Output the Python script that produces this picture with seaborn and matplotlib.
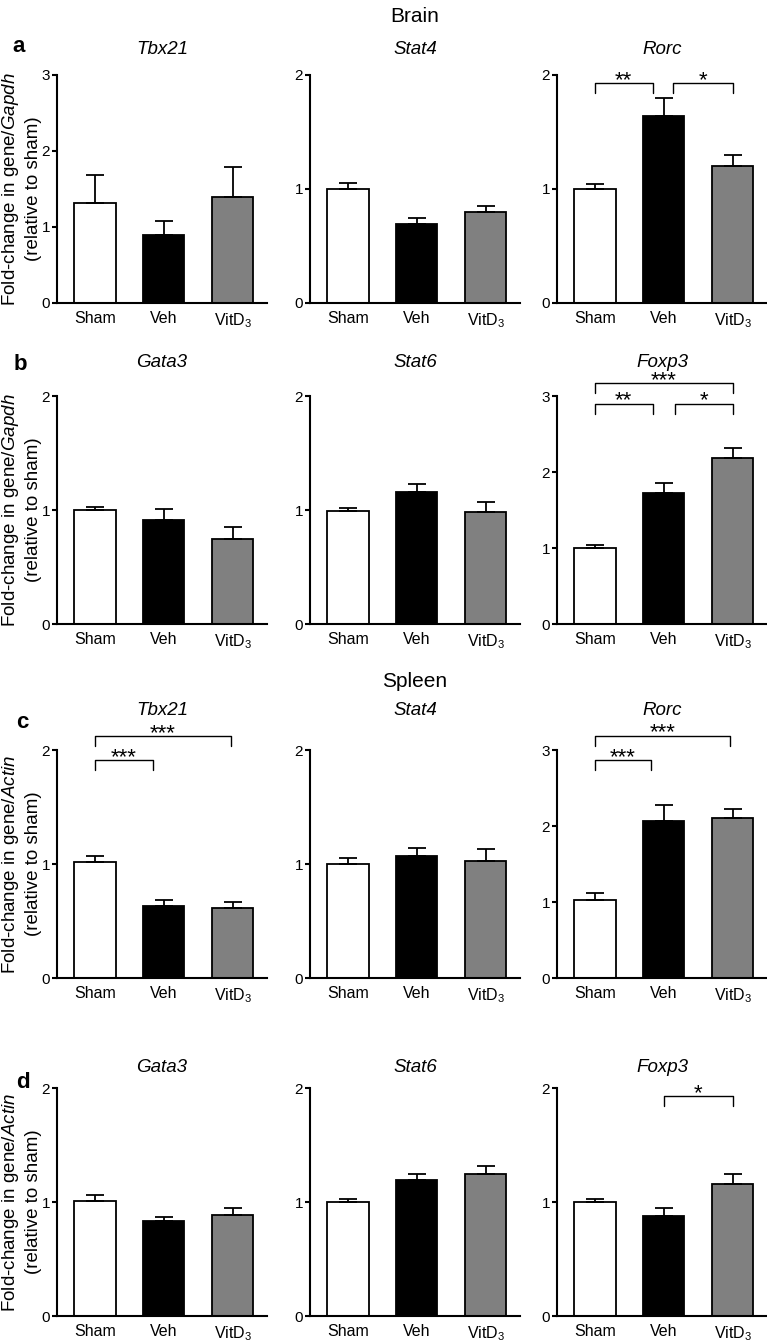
import numpy as np
import pandas as pd
import seaborn as sns
from matplotlib import pyplot as plt

# groups and bar colours
GROUPS = ["Sham", "Veh", "VitD$_3$"]
BAR_COLORS = ["white", "black", "#808080"]

# mean fold-change and SEM (upper error) per gene
brain_tbx21 = [1.31, 0.89, 1.39]
brain_tbx21_sem = [0.37, 0.19, 0.40]
brain_stat4 = [1.00, 0.69, 0.795]
brain_stat4_sem = [0.05, 0.06, 0.055]
brain_rorc = [1.00, 1.64, 1.20]
brain_rorc_sem = [0.04, 0.16, 0.10]
brain_gata3 = [1.00, 0.91, 0.75]
brain_gata3_sem = [0.03, 0.10, 0.10]
brain_stat6 = [0.99, 1.16, 0.98]
brain_stat6_sem = [0.03, 0.07, 0.09]
brain_foxp3 = [1.00, 1.73, 2.18]
brain_foxp3_sem = [0.04, 0.13, 0.13]

spleen_tbx21 = [1.015, 0.63, 0.617]
spleen_tbx21_sem = [0.055, 0.05, 0.053]
spleen_stat4 = [1.00, 1.07, 1.03]
spleen_stat4_sem = [0.05, 0.07, 0.10]
spleen_rorc = [1.03, 2.07, 2.10]
spleen_rorc_sem = [0.09, 0.20, 0.12]
spleen_gata3 = [1.01, 0.83, 0.89]
spleen_gata3_sem = [0.05, 0.04, 0.06]
spleen_stat6 = [1.00, 1.195, 1.245]
spleen_stat6_sem = [0.03, 0.055, 0.075]
spleen_foxp3 = [1.00, 0.88, 1.16]
spleen_foxp3_sem = [0.03, 0.07, 0.09]

ROW_LETTERS = ["a", "b", "c", "d"]
ROW_REF = ["Gapdh", "Gapdh", "Actin", "Actin"]
ROW_GENES = [["Tbx21", "Stat4", "Rorc"], ["Gata3", "Stat6", "Foxp3"],
             ["Tbx21", "Stat4", "Rorc"], ["Gata3", "Stat6", "Foxp3"]]
ROW_YMAX = [[3, 2, 2], [2, 2, 3], [2, 2, 3], [2, 2, 2]]
ROW_MEANS = [[brain_tbx21, brain_stat4, brain_rorc],
             [brain_gata3, brain_stat6, brain_foxp3],
             [spleen_tbx21, spleen_stat4, spleen_rorc],
             [spleen_gata3, spleen_stat6, spleen_foxp3]]
ROW_SEMS = [[brain_tbx21_sem, brain_stat4_sem, brain_rorc_sem],
            [brain_gata3_sem, brain_stat6_sem, brain_foxp3_sem],
            [spleen_tbx21_sem, spleen_stat4_sem, spleen_rorc_sem],
            [spleen_gata3_sem, spleen_stat6_sem, spleen_foxp3_sem]]

# significance brackets: (row, col, from, to, height, label)
BRACKETS = [
    (0, 2, 0, 0.84, 1.93, "**"),
    (0, 2, 1.13, 2, 1.93, "*"),
    (1, 2, 0, 0.84, 2.90, "**"),
    (1, 2, 1.16, 2, 2.90, "*"),
    (1, 2, 0, 2, 3.17, "***"),
    (2, 0, 0, 0.84, 1.91, "***"),
    (2, 0, 0, 1.97, 2.12, "***"),
    (2, 2, 0, 0.81, 2.87, "***"),
    (2, 2, 0, 1.96, 3.19, "***"),
    (3, 2, 1, 2, 1.93, "*"),
]

# layout in pixels
FIG_W, FIG_H = 767, 1343
COL_LEFT = [57, 310, 557]
ROW_TOP = [75, 396, 750, 1088]
AX_W, AX_H = 210, 228
TITLE_Y = [47, 360, 708, 1065]
LETTER_POS = [(19, 47), (20, 365), (22, 723), (23, 1083)]
SECTIONS = [("Brain", 17), ("Spleen", 682)]

sns.set_style("ticks")
plt.rcParams["font.family"] = ["Liberation Sans", "DejaVu Sans"]
plt.rcParams["mathtext.fontset"] = "custom"
plt.rcParams["mathtext.rm"] = "Liberation Sans"
plt.rcParams["mathtext.it"] = "Liberation Sans:italic"
for key in ("text.color", "axes.labelcolor", "xtick.color", "ytick.color", "axes.edgecolor"):
    plt.rcParams[key] = "black"

fig = plt.figure(figsize=(FIG_W / 100, FIG_H / 100), dpi=100)

for r in range(4):
    for c in range(3):
        left, top = COL_LEFT[c], ROW_TOP[r]
        ax = fig.add_axes([left / FIG_W, 1 - (top + AX_H) / FIG_H, AX_W / FIG_W, AX_H / FIG_H])
        ymax = ROW_YMAX[r][c]
        mean = ROW_MEANS[r][c]
        sem = ROW_SEMS[r][c]
        df = pd.DataFrame({"group": GROUPS, "value": mean})
        sns.barplot(data=df, x="group", y="value", hue="group", palette=BAR_COLORS,
                    edgecolor="black", linewidth=1.3, width=0.6, legend=False, ax=ax,
                    saturation=1)
        ax.errorbar(np.arange(3), mean, yerr=[np.zeros(3), sem], fmt="none", ecolor="black",
                    elinewidth=1.3, capsize=6.8, capthick=1.3, zorder=1)
        ax.set_xlim(-0.55, 2.5)
        ax.set_ylim(0, ymax)
        ax.set_yticks(range(ymax + 1))
        ax.set_xlabel("")
        ax.set_ylabel("")
        for side in ("top", "right"):
            ax.spines[side].set_visible(False)
        for side in ("left", "bottom"):
            ax.spines[side].set_linewidth(1.5)
        ax.tick_params(axis="x", length=0, pad=6, labelsize=11.5)
        ax.tick_params(axis="y", length=3.5, width=1.5, pad=1.5, labelsize=11)

        pad_px = top - (TITLE_Y[r] + 7)
        ax.set_title(ROW_GENES[r][c], fontstyle="italic", fontsize=13.5, pad=pad_px * 0.72)

        if c == 0:
            ax.set_ylabel(f"Fold-change in gene/$\\it{{{ROW_REF[r]}}}$\n(relative to sham)",
                          fontsize=13.5, linespacing=1.35, va="center")
            ax.yaxis.set_label_coords((21 - left) / AX_W, 0.5)

        unit = ymax / AX_H
        for br, bc, x0, x1, y, label in BRACKETS:
            if br != r or bc != c:
                continue
            leg = 10 * unit
            ax.plot([x0, x0, x1, x1], [y - leg, y, y, y - leg], color="black", lw=1.0,
                    clip_on=False)
            ax.text((x0 + x1) / 2, y - 3 * unit, label, ha="center", va="baseline",
                    fontsize=16, clip_on=False)

for letter, (x, y) in zip(ROW_LETTERS, LETTER_POS):
    fig.text(x / FIG_W, 1 - y / FIG_H, letter, fontweight="bold", fontsize=16,
             ha="center", va="center")

for name, y in SECTIONS:
    fig.text(415 / FIG_W, 1 - y / FIG_H, name, fontsize=15, ha="center", va="center")

plt.savefig("out.png", dpi=100)
